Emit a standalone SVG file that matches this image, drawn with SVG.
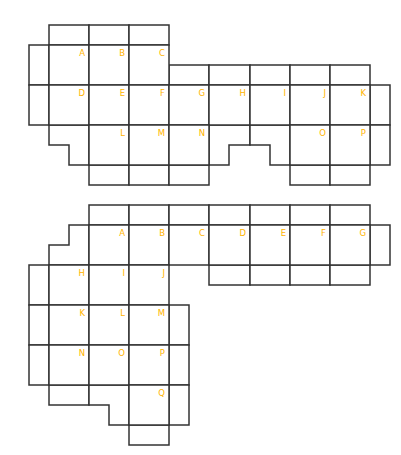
<svg xmlns="http://www.w3.org/2000/svg" width="401" height="455" viewBox="0 0 401 455">
<style>
.c{fill:#fff;stroke:#333;stroke-width:1.5}
.t{font-family:"DejaVu Sans",sans-serif;font-size:8.5px;fill:#FFB300;text-anchor:end}
</style>
<rect width="401" height="455" fill="#fff"/>
<g id="top">
<rect class="c" x="49" y="25" width="40" height="20"/>
<rect class="c" x="89" y="25" width="40" height="20"/>
<rect class="c" x="129" y="25" width="40" height="20"/>
<rect class="c" x="29" y="45" width="20" height="40"/>
<rect class="c" x="29" y="85" width="20" height="40"/>
<rect class="c" x="169" y="65" width="40" height="20"/>
<rect class="c" x="209" y="65" width="41" height="20"/>
<rect class="c" x="250" y="65" width="40" height="20"/>
<rect class="c" x="290" y="65" width="40" height="20"/>
<rect class="c" x="330" y="65" width="40" height="20"/>
<rect class="c" x="370" y="85" width="20" height="40"/>
<rect class="c" x="370" y="125" width="20" height="40"/>
<polygon class="c" points="49,125 89,125 89,165 69,165 69,145 49,145"/>
<polygon class="c" points="209,125 250,125 250,145 229,145 229,165 209,165"/>
<polygon class="c" points="250,125 290,125 290,165 270,165 270,145 250,145"/>
<rect class="c" x="89" y="165" width="40" height="20"/>
<rect class="c" x="129" y="165" width="40" height="20"/>
<rect class="c" x="169" y="165" width="40" height="20"/>
<rect class="c" x="290" y="165" width="40" height="20"/>
<rect class="c" x="330" y="165" width="40" height="20"/>
<g id="tA"><rect class="c" x="49" y="45" width="40" height="40"/><text class="t" x="85" y="56">A</text></g>
<g id="tB"><rect class="c" x="89" y="45" width="40" height="40"/><text class="t" x="125" y="56">B</text></g>
<g id="tC"><rect class="c" x="129" y="45" width="40" height="40"/><text class="t" x="165" y="56">C</text></g>
<g id="tD"><rect class="c" x="49" y="85" width="40" height="40"/><text class="t" x="85" y="96">D</text></g>
<g id="tE"><rect class="c" x="89" y="85" width="40" height="40"/><text class="t" x="125" y="96">E</text></g>
<g id="tF"><rect class="c" x="129" y="85" width="40" height="40"/><text class="t" x="165" y="96">F</text></g>
<g id="tG"><rect class="c" x="169" y="85" width="40" height="40"/><text class="t" x="205" y="96">G</text></g>
<g id="tH"><rect class="c" x="209" y="85" width="41" height="40"/><text class="t" x="246" y="96">H</text></g>
<g id="tI"><rect class="c" x="250" y="85" width="40" height="40"/><text class="t" x="286" y="96">I</text></g>
<g id="tJ"><rect class="c" x="290" y="85" width="40" height="40"/><text class="t" x="326" y="96">J</text></g>
<g id="tK"><rect class="c" x="330" y="85" width="40" height="40"/><text class="t" x="366" y="96">K</text></g>
<g id="tL"><rect class="c" x="89" y="125" width="40" height="40"/><text class="t" x="125" y="136">L</text></g>
<g id="tM"><rect class="c" x="129" y="125" width="40" height="40"/><text class="t" x="165" y="136">M</text></g>
<g id="tN"><rect class="c" x="169" y="125" width="40" height="40"/><text class="t" x="205" y="136">N</text></g>
<g id="tO"><rect class="c" x="290" y="125" width="40" height="40"/><text class="t" x="326" y="136">O</text></g>
<g id="tP"><rect class="c" x="330" y="125" width="40" height="40"/><text class="t" x="366" y="136">P</text></g>
</g>
<g id="bottom">
<rect class="c" x="89" y="205" width="40" height="20"/>
<rect class="c" x="129" y="205" width="40" height="20"/>
<rect class="c" x="169" y="205" width="40" height="20"/>
<rect class="c" x="209" y="205" width="41" height="20"/>
<rect class="c" x="250" y="205" width="40" height="20"/>
<rect class="c" x="290" y="205" width="40" height="20"/>
<rect class="c" x="330" y="205" width="40" height="20"/>
<polygon class="c" points="69,225 89,225 89,265 49,265 49,245 69,245"/>
<rect class="c" x="370" y="225" width="20" height="40"/>
<rect class="c" x="209" y="265" width="41" height="20"/>
<rect class="c" x="250" y="265" width="40" height="20"/>
<rect class="c" x="290" y="265" width="40" height="20"/>
<rect class="c" x="330" y="265" width="40" height="20"/>
<rect class="c" x="29" y="265" width="20" height="40"/>
<rect class="c" x="29" y="305" width="20" height="40"/>
<rect class="c" x="29" y="345" width="20" height="40"/>
<rect class="c" x="169" y="305" width="20" height="40"/>
<rect class="c" x="169" y="345" width="20" height="40"/>
<rect class="c" x="49" y="385" width="40" height="20"/>
<polygon class="c" points="89,385 129,385 129,425 109,425 109,405 89,405"/>
<rect class="c" x="169" y="385" width="20" height="40"/>
<rect class="c" x="129" y="425" width="40" height="20"/>
<g id="bA"><rect class="c" x="89" y="225" width="40" height="40"/><text class="t" x="125" y="236">A</text></g>
<g id="bB"><rect class="c" x="129" y="225" width="40" height="40"/><text class="t" x="165" y="236">B</text></g>
<g id="bC"><rect class="c" x="169" y="225" width="40" height="40"/><text class="t" x="205" y="236">C</text></g>
<g id="bD"><rect class="c" x="209" y="225" width="41" height="40"/><text class="t" x="246" y="236">D</text></g>
<g id="bE"><rect class="c" x="250" y="225" width="40" height="40"/><text class="t" x="286" y="236">E</text></g>
<g id="bF"><rect class="c" x="290" y="225" width="40" height="40"/><text class="t" x="326" y="236">F</text></g>
<g id="bG"><rect class="c" x="330" y="225" width="40" height="40"/><text class="t" x="366" y="236">G</text></g>
<g id="bH"><rect class="c" x="49" y="265" width="40" height="40"/><text class="t" x="85" y="276">H</text></g>
<g id="bI"><rect class="c" x="89" y="265" width="40" height="40"/><text class="t" x="125" y="276">I</text></g>
<g id="bJ"><rect class="c" x="129" y="265" width="40" height="40"/><text class="t" x="165" y="276">J</text></g>
<g id="bK"><rect class="c" x="49" y="305" width="40" height="40"/><text class="t" x="85" y="316">K</text></g>
<g id="bL"><rect class="c" x="89" y="305" width="40" height="40"/><text class="t" x="125" y="316">L</text></g>
<g id="bM"><rect class="c" x="129" y="305" width="40" height="40"/><text class="t" x="165" y="316">M</text></g>
<g id="bN"><rect class="c" x="49" y="345" width="40" height="40"/><text class="t" x="85" y="356">N</text></g>
<g id="bO"><rect class="c" x="89" y="345" width="40" height="40"/><text class="t" x="125" y="356">O</text></g>
<g id="bP"><rect class="c" x="129" y="345" width="40" height="40"/><text class="t" x="165" y="356">P</text></g>
<g id="bQ"><rect class="c" x="129" y="385" width="40" height="40"/><text class="t" x="165" y="396">Q</text></g>
</g>
</svg>
